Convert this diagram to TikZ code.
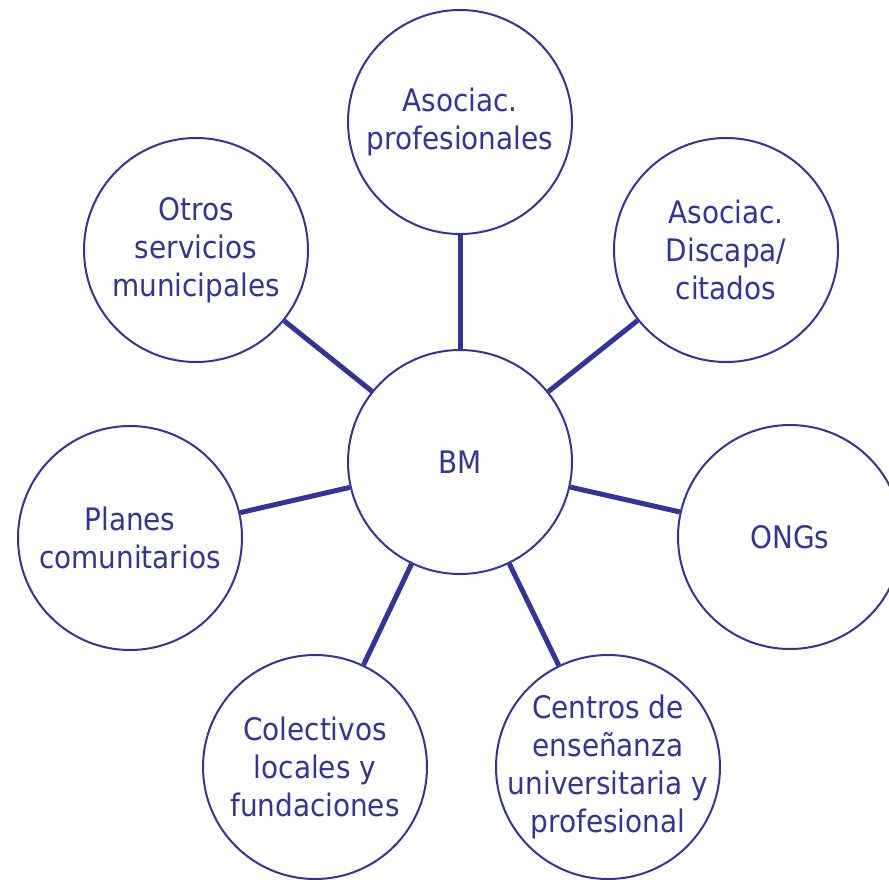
\documentclass[tikz,border=0pt]{standalone}
\usepackage{fontspec}
\setmainfont{DejaVu Sans Condensed}
\definecolor{navy}{HTML}{333399}
\begin{document}
\begin{tikzpicture}[x=1pt,y=-1pt,
  bubble/.style={circle, draw=navy, line width=2pt, fill=white, minimum size=224pt,
    inner sep=0pt},
  txt/.style={text=navy, align=center, inner sep=0pt, font=\fontsize{31}{38}\selectfont},
  link/.style={draw=navy, line width=5pt}]
\useasboundingbox (0,0) rectangle (889,879);
\clip (0,0) rectangle (889,879);
\node[bubble] (bm)  at (460,462) {};
\node[bubble] (ap)  at (460,122) {};
\node[bubble] (os)  at (196,250) {};
\node[bubble] (ad)  at (726,250) {};
\node[bubble] (pc)  at (130,538) {};
\node[bubble] (ong) at (790,537) {};
\node[bubble] (col) at (315,767) {};
\node[bubble] (cen) at (608,767) {};
\node[txt] (bm-t)  at (bm)  {BM};
\node[txt] (ap-t)  at (ap)  {Asociac.\\profesionales};
\node[txt] (os-t)  at (os)  {Otros\\servicios\\municipales};
\node[txt] (ad-t)  at (ad)  {Asociac.\\Discapa/\\citados};
\node[txt] (pc-t)  at (pc)  {Planes\\comunitarios};
\node[txt] (ong-t) at (ong) {ONGs};
\node[txt] (col-t) at (col) {Colectivos\\locales y\\fundaciones};
\node[txt] (cen-t) at (cen) {Centros de\\enseñanza\\universitaria y\\profesional};
\foreach \t in {ap,os,ad,pc,ong,col,cen}
  \draw[link] (bm) -- (\t);
\end{tikzpicture}
\end{document}
